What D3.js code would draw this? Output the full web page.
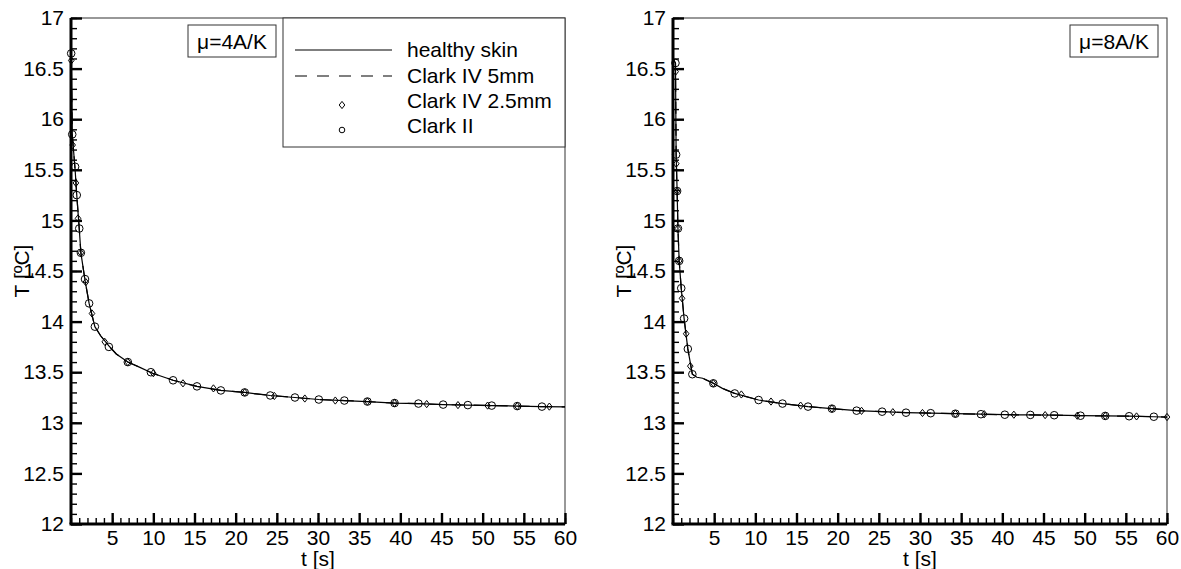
<!DOCTYPE html>
<html>
<head>
  <meta charset="utf-8">
  <title>Skin temperature</title>
  <style>
    body { margin: 0; background: #fff; }
    svg { display: block; font-family: "Liberation Sans", Arial, sans-serif; }
    .tick text { font-size: 21px; fill: #000; }
    .line { fill: none; stroke: #000; stroke-width: 1.2px; }
    .marker { fill: none; stroke: #000; stroke-width: 1px; }
  </style>
</head>
<body>
<svg width="1181" height="569"></svg>
<script src="https://cdn.jsdelivr.net/npm/d3@7"></script>
<script>
  // left panel, mu = 4A/K
  var leftLineT = [0, 0.02, 0.15, 0.5, 0.7, 1.0, 1.2, 1.7, 2.2, 2.9, 3.6, 4.6, 5.5, 6.9, 8.3, 9.9, 12.4, 15.3, 18.2, 21.1, 24.2, 27.2, 30.1, 33.2, 36.0, 39.3, 42.2, 45.2, 48.2, 51.1, 54.2, 57.2, 60];
  var leftLineV = [16.72, 16.65, 15.85, 15.5, 15.25, 14.92, 14.68, 14.41, 14.18, 13.95, 13.86, 13.76, 13.68, 13.60, 13.55, 13.49, 13.42, 13.36, 13.32, 13.30, 13.27, 13.25, 13.23, 13.22, 13.21, 13.195, 13.19, 13.18, 13.175, 13.17, 13.165, 13.16, 13.157];
  var leftDiamondT = [0.03, 0.2, 0.6, 0.85, 1.2, 1.8, 2.55, 4.1, 6.9, 10.0, 13.6, 17.3, 21.1, 24.7, 28.4, 32.1, 36.0, 39.3, 43.2, 47.0, 50.6, 54.2, 58.1];
  var leftDiamondV = [16.58, 15.745, 15.37, 15.02, 14.68, 14.39, 14.08, 13.80, 13.60, 13.49, 13.39, 13.34, 13.30, 13.265, 13.24, 13.22, 13.21, 13.195, 13.185, 13.175, 13.17, 13.165, 13.16];
  var leftCircleT = [0.02, 0.15, 0.5, 0.7, 1.0, 1.2, 1.7, 2.2, 2.9, 4.6, 6.9, 9.7, 12.4, 15.3, 18.2, 21.1, 24.2, 27.2, 30.1, 33.2, 36.0, 39.3, 42.2, 45.2, 48.2, 51.1, 54.2, 57.2];
  var leftCircleV = [16.65, 15.85, 15.53, 15.25, 14.92, 14.68, 14.42, 14.18, 13.95, 13.75, 13.60, 13.50, 13.42, 13.36, 13.32, 13.30, 13.27, 13.25, 13.23, 13.22, 13.21, 13.195, 13.19, 13.18, 13.175, 13.17, 13.165, 13.16];

  // right panel, mu = 8A/K
  var rightLineT = [0, 0.3, 0.38, 0.5, 0.6, 0.75, 1.0, 1.35, 1.8, 2.35, 2.9, 3.6, 4.9, 6.0, 7.5, 10.4, 13.3, 16.4, 19.3, 22.3, 25.4, 28.3, 31.3, 34.3, 37.4, 40.3, 43.4, 46.3, 49.5, 52.5, 55.4, 58.4, 60];
  var rightLineV = [16.6, 16.555, 15.65, 15.29, 14.92, 14.60, 14.33, 14.03, 13.73, 13.48, 13.45, 13.44, 13.39, 13.34, 13.29, 13.225, 13.19, 13.16, 13.14, 13.12, 13.11, 13.10, 13.095, 13.09, 13.085, 13.08, 13.078, 13.075, 13.07, 13.068, 13.065, 13.06, 13.057];
  var rightDiamondT = [0.32, 0.4, 0.5, 0.6, 0.75, 1.1, 1.6, 2.1, 4.9, 8.3, 11.9, 15.5, 19.3, 22.9, 26.7, 30.3, 34.3, 37.8, 41.4, 45.2, 49.1, 52.5, 56.3, 60];
  var rightDiamondV = [16.47, 15.56, 15.29, 14.92, 14.60, 14.23, 13.88, 13.56, 13.39, 13.28, 13.21, 13.17, 13.14, 13.118, 13.105, 13.097, 13.09, 13.085, 13.08, 13.076, 13.07, 13.068, 13.063, 13.057];
  var rightCircleT = [0.3, 0.38, 0.5, 0.6, 0.75, 1.0, 1.35, 1.8, 2.35, 4.9, 7.5, 10.4, 13.3, 16.4, 19.3, 22.3, 25.4, 28.3, 31.3, 34.3, 37.4, 40.3, 43.4, 46.3, 49.5, 52.5, 55.4, 58.4];
  var rightCircleV = [16.555, 15.65, 15.29, 14.92, 14.60, 14.33, 14.03, 13.73, 13.48, 13.39, 13.29, 13.225, 13.19, 13.16, 13.14, 13.12, 13.11, 13.10, 13.095, 13.09, 13.085, 13.08, 13.078, 13.075, 13.07, 13.068, 13.065, 13.06];

  var seriesNames = ["healthy skin", "Clark IV 5mm", "Clark IV 2.5mm", "Clark II"];
  var xTicks = [5, 10, 15, 20, 25, 30, 35, 40, 45, 50, 55, 60];
  var yTicks = [12, 12.5, 13, 13.5, 14, 14.5, 15, 15.5, 16, 16.5, 17];

  var svg = d3.select("svg"),
      width = 494,
      height = 506;

  var x = d3.scaleLinear().domain([0, 60]).range([0, width]),
      y = d3.scaleLinear().domain([12, 17]).range([height, 0]);

  var line = d3.line()
      .x(function(d) { return x(d[0]); })
      .y(function(d) { return y(d[1]); });

  function zip(a, b) { return a.map(function(v, i) { return [v, b[i]]; }); }

  var diamond = "M0,-3.6L2.8,0L0,3.6L-2.8,0Z";

  function panel(left, lineT, lineV, diaT, diaV, cirT, cirV, mu, legend) {
    var g = svg.append("g").attr("transform", "translate(" + left + ",18)");

    // frame
    g.append("rect")
        .attr("width", width).attr("height", height)
        .attr("fill", "none").attr("stroke", "#333").attr("stroke-width", 1);

    // minor ticks
    g.append("g")
        .call(d3.axisLeft(y).tickValues(d3.range(12, 17.001, 0.1)).tickSize(-6).tickFormat(""))
        .call(function(a) { a.select(".domain").remove(); a.selectAll("line").attr("stroke-width", 1.4); });
    g.append("g")
        .attr("transform", "translate(0," + height + ")")
        .call(d3.axisBottom(x).tickValues(d3.range(0, 61, 1)).tickSize(-6).tickFormat(""))
        .call(function(a) { a.select(".domain").remove(); a.selectAll("line").attr("stroke-width", 1.4); });

    // major ticks
    g.append("g")
        .call(d3.axisLeft(y).tickValues(yTicks).tickSize(-11).tickPadding(7).tickFormat(function(d) { return d; }))
        .call(function(a) { a.select(".domain").remove(); a.selectAll("line").attr("stroke-width", 2.4); a.selectAll("text").attr("font-family", null); });
    g.append("g")
        .attr("transform", "translate(0," + height + ")")
        .call(d3.axisBottom(x).tickValues(xTicks).tickSize(-11).tickPadding(6))
        .call(function(a) { a.select(".domain").remove(); a.selectAll("line").attr("stroke-width", 2.4); a.selectAll("text").attr("font-family", null); });

    // heavy axis lines
    g.append("line").attr("x1", 0).attr("x2", 0).attr("y1", 0).attr("y2", height)
        .attr("stroke", "#000").attr("stroke-width", 3);
    g.append("line").attr("x1", -1.5).attr("x2", width).attr("y1", height).attr("y2", height)
        .attr("stroke", "#000").attr("stroke-width", 3);

    // axis titles
    g.append("text")
        .attr("transform", "translate(-42," + 253 + ") rotate(-90)")
        .attr("text-anchor", "middle")
        .style("font-size", "21px")
        .text("T [\u00baC]");
    g.append("text")
        .attr("x", width / 2).attr("y", 548)
        .attr("text-anchor", "middle")
        .style("font-size", "21px")
        .text("t [s]");

    // data
    var pts = zip(lineT, lineV);
    g.append("path").attr("class", "line").attr("d", line(pts));
    g.append("path").attr("class", "line").attr("stroke-dasharray", "12,10").attr("d", line(pts));

    g.selectAll(".dia").data(zip(diaT, diaV)).enter().append("path")
        .attr("class", "marker")
        .attr("transform", function(d) { return "translate(" + x(d[0]) + "," + y(d[1]) + ")"; })
        .attr("d", diamond);
    g.selectAll(".cir").data(zip(cirT, cirV)).enter().append("circle")
        .attr("class", "marker")
        .attr("cx", function(d) { return x(d[0]); })
        .attr("cy", function(d) { return y(d[1]); })
        .attr("r", 3.8);

    // mu box
    var bx = legend ? 117 : 397;
    g.append("rect").attr("x", bx).attr("y", 7).attr("width", 88).attr("height", 32)
        .attr("fill", "#fff").attr("stroke", "#333").attr("stroke-width", 1);
    g.append("text").attr("x", bx + 44).attr("y", 31)
        .attr("text-anchor", "middle").style("font-size", "21px")
        .text(mu);

    if (legend) {
      var lg = g.append("g").attr("transform", "translate(212,0)");
      lg.append("rect").attr("width", 282).attr("height", 129)
          .attr("fill", "#fff").attr("stroke", "#333").attr("stroke-width", 1);
      var rows = [39, 65, 90, 115];
      seriesNames.forEach(function(name, i) {
        lg.append("text").attr("x", 124).attr("y", rows[i])
            .style("font-size", "21px").text(name);
      });
      var yc = rows.map(function(r) { return r - 7; });
      lg.append("line").attr("x1", 12).attr("x2", 109).attr("y1", yc[0]).attr("y2", yc[0])
          .attr("stroke", "#000").attr("stroke-width", 1.2);
      lg.append("line").attr("x1", 12).attr("x2", 109).attr("y1", yc[1]).attr("y2", yc[1])
          .attr("stroke", "#000").attr("stroke-width", 1.2).attr("stroke-dasharray", "12,10");
      lg.append("path").attr("class", "marker")
          .attr("transform", "translate(59," + (rows[2] - 3) + ")").attr("d", diamond);
      lg.append("circle").attr("class", "marker")
          .attr("cx", 59).attr("cy", rows[3] - 3).attr("r", 2.8);
    }
  }

  panel(71, leftLineT, leftLineV, leftDiamondT, leftDiamondV, leftCircleT, leftCircleV, "\u03bc=4A/K", true);
  panel(673, rightLineT, rightLineV, rightDiamondT, rightDiamondV, rightCircleT, rightCircleV, "\u03bc=8A/K", false);
</script>
</body>
</html>
